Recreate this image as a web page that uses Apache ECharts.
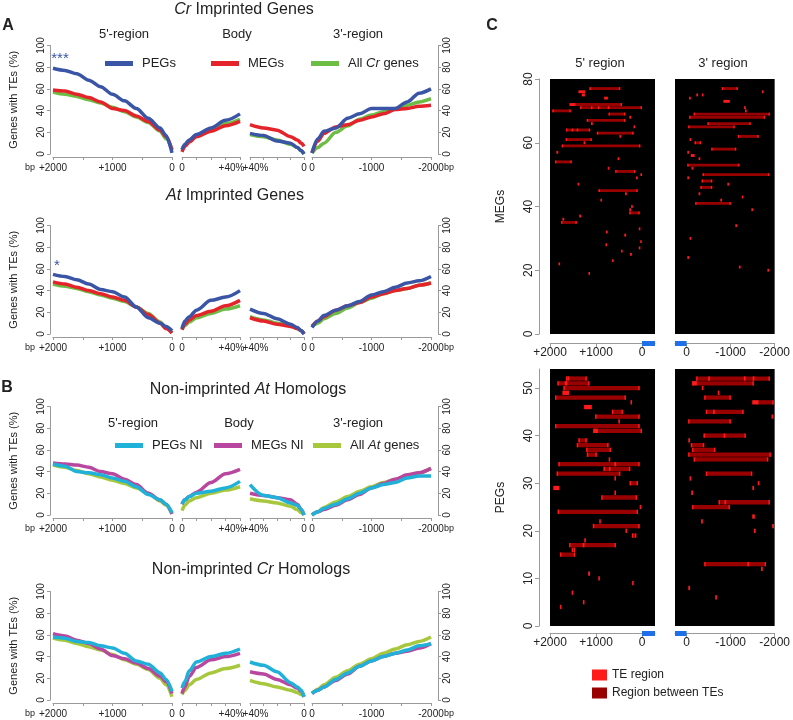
<!DOCTYPE html>
<html><head><meta charset="utf-8">
<script src="https://cdn.jsdelivr.net/npm/echarts@6/dist/echarts.min.js"></script>
<style>html,body{margin:0;padding:0;background:#fff}#c{width:793px;height:720px}</style>
</head><body><div id="c"></div>
<script>
// ---------- shared x positions ----------
const X5 = [2000,1800,1600,1400,1200,1000,800,600,400,200,100,0];      // 5'-region (bp)
const XB5 = [0,2,5,10,20,30,40];                                        // body (%) from 5' end
const XB3 = [40,30,20,10,5,2,0];                                        // body (%) to 3' end
const X3 = [0,-100,-200,-400,-600,-800,-1000,-1200,-1400,-1600,-1800,-2000]; // 3'-region (bp)

// ---------- A: Cr imprinted genes ----------
const crPEG5 = [79,77,74,68,62,55,49,42,33,24,17,1];
const crMEG5 = [59,58,55,52,48,42,40,35,30,22,16,4];
const crAll5 = [57,55,53,50,47,43,39,34,29,21,14,4];
const crPEGb5 = [4,9,13,18,24,31,37];
const crMEGb5 = [2,7,11,16,21,26,30];
const crAllb5 = [4,8,12,17,23,28,32];
const crPEGb3 = [19,17,12,10,6,3,0];
const crMEGb3 = [27,24,22,16,13,10,7];
const crAllb3 = [18,16,13,9,6,3,0];
const crPEG3 = [1,14,21,24,33,37,42,42,42,48,56,60];
const crMEG3 = [1,12,19,25,27,31,34,37,41,42,44,45];
const crAll3 = [1,6,10,20,26,32,36,39,42,45,48,51];

// ---------- A: At imprinted genes ----------
const atPEG5 = [55,53,50,46,41,39,34,25,15,10,7,3];
const atMEG5 = [48,46,43,40,37,34,31,25,18,10,5,1];
const atAll5 = [46,44,42,39,36,33,30,25,19,11,6,1];
const atPEGb5 = [5,12,16,22,31,34,40];
const atMEGb5 = [4,9,13,17,21,26,31];
const atAllb5 = [4,8,11,15,19,23,26];
const atPEGb3 = [23,19,14,9,6,3,0];
const atMEGb3 = [15,12,9,7,5,3,0];
const atAllb3 = [16,13,10,8,5,3,0];
const atPEG3 = [6,12,17,22,26,30,36,39,43,47,49,53];
const atMEG3 = [7,12,16,22,26,29,34,37,40,42,45,47];
const atAll3 = [7,10,14,19,24,29,33,37,40,42,45,47];

// ---------- B: non-imprinted At homologs ----------
const naPEG5 = [47,45,40,39,37,34,31,26,19,14,10,2];
const naMEG5 = [48,47,46,44,40,38,33,28,20,14,10,1];
const naAll5 = [46,44,41,38,35,32,29,25,20,13,9,1];
const naPEGb5 = [10,14,17,20,22,25,31];
const naMEGb5 = [10,14,17,21,30,38,42];
const naAllb5 = [4,9,13,16,20,23,26];
const naPEGb3 = [28,18,16,11,9,5,0];
const naMEGb3 = [20,18,16,14,10,5,0];
const naAllb3 = [15,13,11,8,5,2,0];
const naPEG3 = [0,3,6,10,15,20,25,28,30,34,36,36];
const naMEG3 = [0,3,5,9,14,19,25,29,33,37,39,43];
const naAll3 = [0,3,7,12,17,22,26,30,33,36,39,43];

// ---------- B: non-imprinted Cr homologs ----------
const ncPEG5 = [58,57,54,53,50,48,43,36,33,25,19,8];
const ncMEG5 = [61,59,55,52,47,41,38,34,29,22,17,6];
const ncAll5 = [57,55,52,49,46,42,37,33,28,20,14,3];
const ncPEGb5 = [11,17,27,35,40,43,47];
const ncMEGb5 = [6,12,22,30,37,40,43];
const ncAllb5 = [5,9,14,19,25,29,32];
const ncPEGb3 = [35,32,26,16,12,9,3];
const ncMEGb3 = [26,24,19,14,11,8,3];
const ncAllb3 = [18,15,12,9,7,5,3];
const ncPEG3 = [6,9,12,19,25,31,36,40,43,46,50,52];
const ncMEG3 = [6,9,12,18,24,31,36,40,43,45,48,52];
const ncAll3 = [6,10,14,21,27,33,38,43,47,51,54,58];

// ---------- C: TE maps, rows = gene index, [gene, from bp, to bp] ----------
const megs5Between = [[77,1142,473],[72,1476,436],[71,1345,0],[70,1949,1549],[69,727,364],[67,1200,364],[64,1651,1127],[63,982,182],[61,1658,1091],[59,1745,36],[54,1891,1527],[51,582,145],[45,945,95],[38,276,51],[35,1760,1418]];
const megs5TE = [[76,1382,1236],[75,1310,1240],[74,822,742],[72,1578,1476],[71,1110,1075],[71,960,925],[71,745,710],[64,1530,1495],[64,1420,1385],[68,275,235],[66,1110,1070],[65,185,150],[62,490,455],[60,1270,1230],[57,1860,1820],[55,530,490],[52,745,710],[50,35,0],[49,130,90],[47,1400,1365],[44,370,330],[42,905,870],[40,235,200],[39,275,235],[37,1365,1325],[36,1730,1690],[33,70,35],[32,785,745],[31,385,345],[29,40,5],[28,795,760],[27,70,35],[26,455,420],[25,260,220],[23,650,615],[22,1815,1780],[19,1165,1130]];
const megs3Between = [[77,-800,-1164],[69,-160,-1891],[68,-58,-1782],[66,-473,-1455],[65,-36,-1091],[62,-1164,-1636],[60,-182,-327],[58,-560,-1127],[53,-15,-1200],[50,-364,-1876],[48,-342,-582],[46,-313,-582],[41,-196,-1004]];
const megs3TE = [[76,-1710,-1750],[75,-220,-260],[75,-345,-385],[74,-55,-95],[73,-836,-982],[71,-1305,-1345],[70,-1325,-1365],[61,-67,-107],[57,-16,-56],[56,-95,-182],[55,-271,-311],[52,-111,-151],[49,-16,-56],[47,-925,-965],[44,-271,-311],[43,-1253,-1293],[42,-765,-805],[39,-1471,-1511],[34,-1107,-1147],[30,-67,-107],[24,-16,-56],[21,-1187,-1227],[20,-1835,-1875]];
const pegs5Between = [[52,1651,1200],[51,1840,1142],[50,1709,51],[48,1891,349],[45,655,415],[44,1018,51],[42,1891,51],[41,1055,0],[39,1382,1200],[38,1418,727],[37,1214,676],[36,1200,982],[34,1818,51],[33,836,255],[32,1855,473],[30,269,87],[27,887,109],[24,1833,87],[21,1069,51],[19,218,124],[17,1585,567],[16,1527,1454],[15,1782,1454]];
const pegs5TE = [[52,1620,1580],[51,1680,1620],[49,1731,1585],[47,250,215],[46,1258,1091],[43,515,480],[41,1055,960],[35,725,690],[34,600,560],[33,720,685],[31,600,565],[29,1927,1796],[28,600,565],[25,50,15],[22,930,895],[20,360,325],[18,1255,1220],[17,1290,1250],[11,1170,1130],[10,950,915],[9,215,180],[7,1530,1495],[5,1285,1250],[4,1785,1750]];
const pegs3Between = [[52,-218,-1891],[51,-131,-1527],[48,-400,-1004],[47,-1600,-1978],[45,-436,-1295],[43,-36,-1004],[40,-385,-1345],[38,-95,-400],[37,-124,-655],[36,-36,-1913],[35,-160,-1855],[32,-436,-1491],[26,-727,-1891],[25,-124,-982],[13,-400,-1804]];
const pegs3TE = [[51,-131,-233],[50,-344,-384],[49,-707,-747],[47,-1491,-1600],[44,-1929,-1969],[40,-840,-880],[39,-38,-78],[31,-67,-107],[30,-1616,-1656],[29,-1493,-1533],[28,-104,-144],[23,-1491,-1549],[22,-329,-369],[21,-1944,-1984],[20,-1529,-1569],[12,-1689,-1729],[8,-38,-78],[6,-649,-689],[52,-1300,-1340],[52,-1500,-1540],[52,-490,-530],[45,-600,-640],[26,-860,-900],[13,-1380,-1420]];
const gene5 = [[0,-283]];
const gene3 = [[264,0]];

// ---------- styling ----------
const FONT = '"Liberation Sans", Arial, sans-serif';
const AX = '#9a9a9a';
const BLUE = '#3a55a5', RED = '#e5232a', GREEN = '#6cbd45';
const CYAN = '#1fb1d8', MAG = '#b9479f', YG = '#a7c73c';
const TE_C = '#ff1a1a', BT_C = '#990000';

const ZERO = [154, 334, 515, 700];
const PH = 108.5;
const COLS = [[53,119],[182,58],[250,54],[312,119]];
const XS = [X5, XB5, XB3, X3];

const panels = [
  {names:['All Cr genes','MEGs','PEGs'], colors:[GREEN,RED,BLUE],
   data:[[crAll5,crAllb5,crAllb3,crAll3],[crMEG5,crMEGb5,crMEGb3,crMEG3],[crPEG5,crPEGb5,crPEGb3,crPEG3]]},
  {names:['All Cr genes','MEGs','PEGs'], colors:[GREEN,RED,BLUE],
   data:[[atAll5,atAllb5,atAllb3,atAll3],[atMEG5,atMEGb5,atMEGb3,atMEG3],[atPEG5,atPEGb5,atPEGb3,atPEG3]]},
  {names:['All At genes','MEGs NI','PEGs NI'], colors:[YG,MAG,CYAN],
   data:[[naAll5,naAllb5,naAllb3,naAll3],[naMEG5,naMEGb5,naMEGb3,naMEG3],[naPEG5,naPEGb5,naPEGb3,naPEG3]]},
  {names:['All At genes','MEGs NI','PEGs NI'], colors:[YG,MAG,CYAN],
   data:[[ncAll5,ncAllb5,ncAllb3,ncAll3],[ncMEG5,ncMEGb5,ncMEGb3,ncMEG3],[ncPEG5,ncPEGb5,ncPEGb3,ncPEG3]]}
];

const grid = [], xAxis = [], yAxis = [], series = [];
const lbl = {fontSize:10, color:'#222', fontFamily:FONT};

panels.forEach((P, p) => {
  for (let c = 0; c < 4; c++) {
    const gi = p*4 + c;
    grid.push({left:COLS[c][0], width:COLS[c][1], top:ZERO[p]-PH, height:PH, containLabel:false});
    const xa = {gridIndex:gi, type:'value', offset:3, splitLine:{show:false},
      axisLine:{onZero:false, lineStyle:{color:AX, width:1}}, axisTick:{length:3, lineStyle:{color:AX}},
      axisLabel:Object.assign({}, lbl, {margin:6, showMinLabel:true, showMaxLabel:true})};
    if (c === 0) {
      Object.assign(xa, {min:0, max:2000, interval:500, inverse:true});
      xa.axisLabel.formatter = v => v===2000?'+2000':v===1000?'+1000':v===0?'0':'';
    } else if (c === 1) {
      Object.assign(xa, {min:0, max:40, interval:10});
      xa.axisLabel.formatter = v => v===0?'0':v===40?'{r|+40%}':'';
      xa.axisLabel.rich = {r:{fontSize:10, color:'#222', fontFamily:FONT, padding:[0,17,0,0]}};
    } else if (c === 2) {
      Object.assign(xa, {min:0, max:40, interval:10, inverse:true});
      xa.axisLabel.formatter = v => v===0?'0':v===40?'{l|+40%}':'';
      xa.axisLabel.rich = {l:{fontSize:10, color:'#222', fontFamily:FONT, padding:[0,0,0,11]}};
    } else {
      Object.assign(xa, {min:-2000, max:0, interval:500, inverse:true});
      xa.axisLabel.formatter = v => v===0?'0':v===-1000?'-1000':v===-2000?'-2000':'';
    }
    xAxis.push(xa);
    if (c === 0 || c === 3) {
      const ya = {gridIndex:gi, type:'value', min:0, max:100, interval:20, position:c===0?'left':'right',
        offset:c===0?3:7, splitLine:{show:false},
        axisLine:{show:true, onZero:false, lineStyle:{color:AX}}, axisTick:{show:true, length:3, lineStyle:{color:AX}},
        axisLabel:Object.assign({}, lbl, {rotate:90, margin:4})};
      if (c === 0) Object.assign(ya, {name:'Genes with TEs (%)', nameLocation:'middle', nameGap:31,
        nameTextStyle:{fontSize:11, color:'#222', fontFamily:FONT}});
      yAxis.push(ya);
    } else {
      yAxis.push({gridIndex:gi, type:'value', min:0, max:100, show:false, axisLine:{onZero:false}});
    }
    for (let s = 0; s < 3; s++) {
      const ys = P.data[s][c];
      series.push({type:'line', name:P.names[s], xAxisIndex:gi, yAxisIndex:gi,
        data: XS[c].map((x,i) => [x, ys[i]]), showSymbol:false, symbol:'none',
        smooth:0.3, smoothMonotone:'x', color:P.colors[s],
        lineStyle:{width:3.5, color:P.colors[s]}, itemStyle:{color:P.colors[s]},
        silent:true, z:2+s});
    }
  }
});

// ---------- heatmap grids (C) ----------
const HM = [
  {left:550, width:105, top:79, height:255, xmin:-283, xmax:2000, ymax:80, between:megs5Between, te:megs5TE, gene:gene5, ticks:[2000,1000,0], off:9, yaxis:true, yname:'MEGs', yticks:[0,20,40,60,80]},
  {left:675, width:103, top:79, height:255, xmin:-2000, xmax:264, ymax:80, between:megs3Between, te:megs3TE, gene:gene3, ticks:[0,-1000,-2000], off:9, yaxis:false},
  {left:550, width:105, top:369, height:257, xmin:-283, xmax:2000, ymax:54, between:pegs5Between, te:pegs5TE, gene:gene5, ticks:[2000,1000,0], off:7, yaxis:true, yname:'PEGs', yticks:[0,10,20,30,40,50]},
  {left:675, width:103, top:369, height:257, xmin:-2000, xmax:264, ymax:54, between:pegs3Between, te:pegs3TE, gene:gene3, ticks:[0,-1000,-2000], off:7, yaxis:false}
];

function segRender(color, ends) {
  return function (params, api) {
    const g = api.value(0), a = api.value(1), b = api.value(2);
    const p1 = api.coord([a, g + 0.45]), p2 = api.coord([b, g - 0.45]);
    const x = Math.min(p1[0], p2[0]), y = Math.min(p1[1], p2[1]);
    const w = Math.max(Math.abs(p2[0] - p1[0]), 1.6), h = Math.abs(p2[1] - p1[1]);
    const ch = [{type:'rect', shape:{x, y, width:w, height:h}, style:{fill:color}}];
    if (ends) {
      const e = Math.max(api.size([30, 0])[0], 1.4);
      ch.push({type:'rect', shape:{x:x, y, width:e, height:h}, style:{fill:TE_C}});
      ch.push({type:'rect', shape:{x:x + w - e, y, width:e, height:h}, style:{fill:TE_C}});
    }
    return {type:'group', children:ch};
  };
}

HM.forEach((m, k) => {
  const gi = 16 + k;
  grid.push({left:m.left, width:m.width, top:m.top, height:m.height, show:true, backgroundColor:'#000', borderWidth:0});
  xAxis.push({gridIndex:gi, type:'value', min:m.xmin, max:m.xmax, inverse:true, offset:m.off,
    splitLine:{show:false}, axisLine:{onZero:false, lineStyle:{color:AX}},
    axisTick:{customValues:m.ticks, length:4, lineStyle:{color:AX}},
    axisLabel:{customValues:m.ticks, formatter:v => v>0?'+'+v:String(v), fontSize:12, color:'#222', fontFamily:FONT, margin:4}});
  const ya = {gridIndex:gi, type:'value', min:0, max:m.ymax, show:m.yaxis, offset:11, splitLine:{show:false},
    axisLine:{show:true, onZero:false, lineStyle:{color:AX}},
    axisTick:{show:true, customValues:m.yticks, length:4, lineStyle:{color:AX}},
    axisLabel:{customValues:m.yticks, rotate:90, fontSize:12, color:'#222', fontFamily:FONT, margin:4}};
  if (m.yaxis) Object.assign(ya, {name:m.yname, nameLocation:'middle', nameGap:32, nameTextStyle:{fontSize:12, color:'#222', fontFamily:FONT}});
  yAxis.push(ya);
  series.push({type:'custom', name:'Region between TEs', xAxisIndex:gi, yAxisIndex:gi, data:m.between,
    encode:{x:[1,2], y:0}, itemStyle:{color:BT_C}, renderItem:segRender(BT_C, true), silent:true, z:3});
  series.push({type:'custom', name:'TE region', xAxisIndex:gi, yAxisIndex:gi, data:m.te,
    encode:{x:[1,2], y:0}, itemStyle:{color:TE_C}, renderItem:segRender(TE_C, false), silent:true, z:4});
  series.push({type:'custom', xAxisIndex:gi, yAxisIndex:gi, data:m.gene, encode:{x:[0,1]}, silent:true, z:5,
    renderItem:(params, api) => {
      const p1 = api.coord([api.value(0), 0]), p2 = api.coord([api.value(1), 0]);
      return {type:'rect', shape:{x:Math.min(p1[0],p2[0]), y:p1[1] + m.off - 2, width:Math.abs(p2[0]-p1[0]), height:5}, style:{fill:'#1f6fe8'}};
    }});
});

// ---------- texts ----------
function T(x, y, text, o) {
  o = o || {};
  return {type:'text', x, y, silent:true, z:50, style:{text, fontSize:o.size||13, fontFamily:FONT,
    fontWeight:o.bold?'bold':'normal', fill:o.color||'#222', align:o.align||'center', verticalAlign:'middle',
    textAlign:o.align||'center', textVerticalAlign:'middle',
    rich:{i:{fontStyle:'italic', fontSize:o.size||13, fontFamily:FONT, fill:o.color||'#222'},
          n:{fontSize:o.size||13, fontFamily:FONT, fill:o.color||'#222'}}}};
}
const graphic = [
  T(8, 26, 'A', {size:16, bold:true}),
  T(7, 388, 'B', {size:16, bold:true}),
  T(492, 26, 'C', {size:16, bold:true}),
  T(244, 10, '{i|Cr}{n| Imprinted Genes}', {size:16}),
  T(235, 196, '{i|At}{n| Imprinted Genes}', {size:16}),
  T(248, 390, '{n|Non-imprinted }{i|At}{n| Homologs}', {size:16}),
  T(251, 570, '{n|Non-imprinted }{i|Cr}{n| Homologs}', {size:16}),
  T(124, 34, "5'-region"), T(237, 34, 'Body'), T(358, 34, "3'-region"),
  T(133, 423, "5'-region"), T(239, 423, 'Body'), T(358, 423, "3'-region"),
  T(60, 59, '***', {size:15, color:BLUE}),
  T(57, 266, '*', {size:15, color:BLUE}),
  T(600, 63, "5' region"), T(723, 63, "3' region")
];
ZERO.forEach(z => {
  graphic.push(T(35, z + 14, 'bp', {size:9, align:'right'}));
  graphic.push(T(444, z + 14, 'bp', {size:9, align:'left'}));
});

// ---------- legends ----------
function L(name, left, top, fmt) {
  return {data:[name], left, top, icon:'rect', itemWidth:28, itemHeight:5, selectedMode:false,
    formatter: fmt || (n => n),
    textStyle:{fontSize:13, color:'#222', fontFamily:FONT, padding:[0,0,0,4],
      rich:{n:{fontSize:13, color:'#222', fontFamily:FONT}, i:{fontSize:13, color:'#222', fontFamily:FONT, fontStyle:'italic'}}}};
}
const legend = [
  L('PEGs', 100, 52), L('MEGs', 206, 52), L('All Cr genes', 306, 52, () => '{n|All }{i|Cr}{n| genes}'),
  L('PEGs NI', 110, 434), L('MEGs NI', 209, 434), L('All At genes', 308, 434, () => '{n|All }{i|At}{n| genes}'),
  {data:['TE region','Region between TEs'], orient:'vertical', left:587, top:664, icon:'rect',
   itemWidth:15, itemHeight:11, itemGap:6, selectedMode:false,
   textStyle:{fontSize:12, color:'#222', fontFamily:FONT}}
];

const chart = echarts.init(document.getElementById('c'), null, {renderer:'canvas'});
chart.setOption({animation:false, backgroundColor:'#fff', textStyle:{fontFamily:FONT},
  grid, xAxis, yAxis, series, legend, graphic});
</script></body></html>
